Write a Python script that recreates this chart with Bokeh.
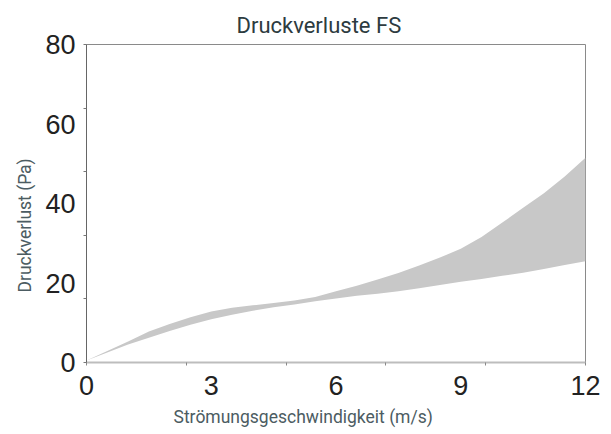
from bokeh.plotting import figure
from bokeh.models import Range1d, FixedTicker, Title
from bokeh.embed import file_html
from bokeh.resources import INLINE

# --- data ---
speed = [0, 1, 1.5, 2, 2.5, 3, 3.5, 4, 4.5, 5, 5.5, 6, 6.5, 7, 7.5, 8, 8.5, 9, 9.5, 10, 10.5, 11, 11.5, 12]
loss_high = [0.5, 5.3, 7.8, 9.7, 11.4, 12.8, 13.8, 14.4, 15.0, 15.6, 16.5, 17.9, 19.3, 20.9, 22.5, 24.4, 26.4, 28.6, 31.6, 35.2, 38.9, 42.6, 46.8, 51.5]
loss_low = [0.5, 4.5, 6.2, 7.9, 9.5, 10.9, 12.0, 13.0, 13.9, 14.6, 15.4, 16.1, 16.8, 17.3, 17.9, 18.7, 19.5, 20.3, 21.0, 21.8, 22.6, 23.5, 24.5, 25.5]
x_labels = [0, 3, 6, 9, 12]
x_marks = [0, 2.4, 4.8, 7.2, 9.6, 12]
y_labels = [0, 20, 40, 60, 80]
y_marks = [0, 16, 32, 48, 64, 80]

TICK_FONT = "Liberation Sans"

p = figure(width=603, height=434, output_backend="svg", toolbar_location=None,
           x_range=Range1d(0, 12), y_range=Range1d(0, 80),
           min_border_left=86, min_border_right=18, min_border_top=44, min_border_bottom=71)

p.title.text = "Druckverluste FS"
p.title.text_font = "Roboto"
p.title.text_font_size = "22px"
p.title.text_font_style = "normal"
p.title.text_color = "#2d3b40"
p.title.align = "left"
p.title.offset = 150
p.title.standoff = 14

p.varea(x=speed, y1=loss_low, y2=loss_high, fill_color="#c8c8c8", fill_alpha=1.0)

p.xgrid.visible = False
p.ygrid.visible = False
p.outline_line_color = "#8a8a8a"
p.outline_line_width = 1
p.background_fill_color = "white"
p.border_fill_color = "white"

p.xaxis.ticker = FixedTicker(ticks=x_labels, minor_ticks=x_marks)
p.yaxis.ticker = FixedTicker(ticks=y_labels, minor_ticks=y_marks)
for ax in (p.xaxis, p.yaxis):
    ax.major_tick_out = 0
    ax.major_tick_in = 0
    ax.minor_tick_out = 3
    ax.minor_tick_in = 0
    ax.major_label_text_font = TICK_FONT
    ax.major_label_text_font_size = "27px"
    ax.major_label_text_color = "#222222"
p.xaxis.major_label_standoff = 10
p.yaxis.major_label_standoff = 8

p.xaxis.axis_line_color = "#bdbdbd"
p.xaxis.axis_line_width = 2
p.xaxis.minor_tick_line_color = "#888888"
p.yaxis.axis_line_color = "#666666"
p.yaxis.minor_tick_line_color = "#777777"

xt = Title(text="Strömungsgeschwindigkeit (m/s)", align="left", offset=87,
           text_font="Roboto", text_font_size="17.5px", text_font_style="normal",
           text_color="#4c5c62", standoff=15)
p.add_layout(xt, "below")
yt = Title(text="Druckverlust (Pa)", align="left", offset=70,
           text_font="Roboto", text_font_size="17.5px", text_font_style="normal",
           text_color="#4c5c62", standoff=15)
p.add_layout(yt, "left")

open("out.html", "w").write(file_html(p, INLINE))
